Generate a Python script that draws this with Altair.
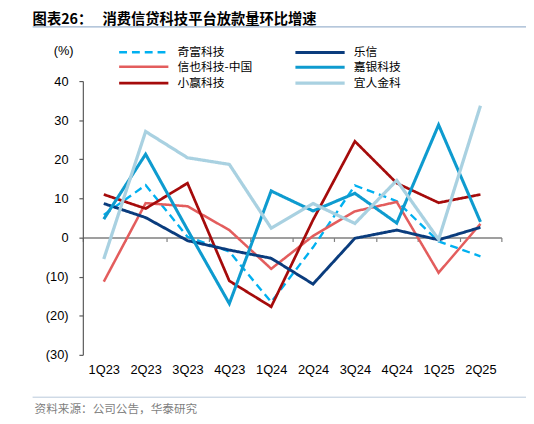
import altair as alt
import pandas as pd

quarters = ["1Q23", "2Q23", "3Q23", "4Q23", "1Q24", "2Q24", "3Q24", "4Q24", "1Q25", "2Q25"]
# legend order (filled column by column): left column then right column
series_names = ["奇富科技", "信也科技-中国", "小赢科技", "乐信", "嘉银科技", "宜人金科"]
qifu = [5.8, 13.4, 0.2, -3.6, -16.5, -2.5, 13.3, 9.3, -1.0, -4.8]
xinye = [-11.3, 8.8, 8.0, 1.9, -8.0, 0.4, 6.7, 9.1, -9.0, 3.5]
xiaoying = [11.0, 7.4, 13.9, -11.1, -17.7, 4.5, 24.6, 13.9, 8.9, 11.0]
lexin = [8.7, 5.1, -0.8, -3.2, -5.3, -11.9, -0.2, 1.9, -0.6, 2.6]
jiayin = [4.7, 21.3, 2.0, -16.9, 11.9, 6.8, 11.3, 3.7, 28.8, 4.0]
yiren = [-5.5, 27.1, 20.4, 18.7, 2.4, 8.7, 3.6, 14.6, -0.5, 33.7]
y_ticks = [-30, -20, -10, 0, 10, 20, 30, 40]

colors = ["#00B0F0", "#E35D5D", "#A50B0B", "#0A3C7D", "#0E9BCF", "#A9D1E1"]
dashes = [[8, 5], [1, 0], [1, 0], [1, 0], [1, 0], [1, 0]]
widths = [2.4, 3.3, 3.3, 2.2, 3.3, 3.3]

title_label = "图表26："
title_text = "消费信贷科技平台放款量环比增速"
source_text = "资料来源：公司公告，华泰研究"

all_series = [qifu, xinye, xiaoying, lexin, jiayin, yiren]
rows = []
for name, vals in zip(series_names, all_series):
    for i, (q, v) in enumerate(zip(quarters, vals)):
        rows.append({"quarter": q, "series": name, "value": v, "qi": i})
df = pd.DataFrame(rows)

W, H = 425, 278
zero_offset = -(H * 30 / 70)

legend = alt.Legend(
    title=None, orient="none", legendX=35, legendY=-38, columns=2,
    symbolType="M-1,0L6,0", symbolSize=204, labelFont="Noto Sans CJK SC",
    labelFontSize=12, labelColor="#000000", labelOffset=43,
    columnPadding=36, rowPadding=0, labelLimit=200,
)

lines = alt.Chart(df).mark_line().encode(
    x=alt.X("quarter:N", sort=quarters,
            scale=alt.Scale(type="band", paddingInner=0, paddingOuter=0),
            axis=alt.Axis(title=None, offset=zero_offset, domainColor="#7F7F7F",
                          domainWidth=1.5, tickColor="#7F7F7F", tickWidth=1.2,
                          tickSize=4, tickBand="extent", labelPadding=124,
                          labelAngle=0, labelFont="Liberation Sans",
                          labelFontSize=13, labelColor="#000000")),
    y=alt.Y("value:Q", scale=alt.Scale(domain=[-30, 40], nice=False, zero=False),
            axis=alt.Axis(values=y_ticks, grid=False,
                          labelExpr="datum.value < 0 ? '(' + abs(datum.value) + ')' : datum.value",
                          title="(%)", titleAngle=0, titleX=-20, titleY=-31,
                          titleAlign="center", titleBaseline="middle",
                          titleFont="Liberation Sans", titleFontWeight="normal",
                          titleFontSize=13, titleColor="#000000",
                          domainColor="#595959", domainWidth=1.2,
                          tickColor="#595959", tickWidth=1.2, tickSize=4,
                          labelPadding=11, labelFont="Liberation Sans",
                          labelFontSize=13, labelColor="#000000")),
    color=alt.Color("series:N", sort=series_names,
                    scale=alt.Scale(domain=series_names, range=colors), legend=legend),
    strokeDash=alt.StrokeDash("series:N", sort=series_names,
                              scale=alt.Scale(domain=series_names, range=dashes), legend=legend),
    strokeWidth=alt.StrokeWidth("series:N", sort=series_names,
                                scale=alt.Scale(domain=series_names, range=widths), legend=legend),
    order=alt.Order("qi:Q"),
)

one = pd.DataFrame({"k": [0]})

title_a = alt.Chart(one).mark_text(
    align="left", baseline="alphabetic", font="Noto Sans CJK SC", fontSize=14.5,
    fontWeight="bold", color="#000000"
).encode(x=alt.value(-51), y=alt.value(-58), text=alt.value(title_label))

title_b = alt.Chart(one).mark_text(
    align="left", baseline="alphabetic", font="Noto Sans CJK SC", fontSize=14.5,
    fontWeight="bold", color="#000000"
).encode(x=alt.value(20), y=alt.value(-58), text=alt.value(title_text))

title_rule = alt.Chart(one).mark_rule(color="#9DB4CF", strokeWidth=1.2).encode(
    x=alt.value(-51), x2=alt.value(450), y=alt.value(-55))

foot_rule = alt.Chart(one).mark_rule(color="#B8C8DA", strokeWidth=1).encode(
    x=alt.value(-51), x2=alt.value(450), y=alt.value(321))

foot_text = alt.Chart(one).mark_text(
    align="left", baseline="middle", font="Noto Sans CJK SC", fontSize=11.8,
    color="#7F7F7F"
).encode(x=alt.value(-49), y=alt.value(333), text=alt.value(source_text))

chart = alt.layer(lines, title_a, title_b, title_rule, foot_rule, foot_text).properties(
    width=W, height=H,
    padding={"left": 76, "top": 71, "right": 25, "bottom": 67},
    autosize=alt.AutoSizeParams(type="none"),
    background="#FFFFFF",
).configure_view(stroke=None)

chart.save("out.html", embed_options={"renderer": "svg", "actions": False})
